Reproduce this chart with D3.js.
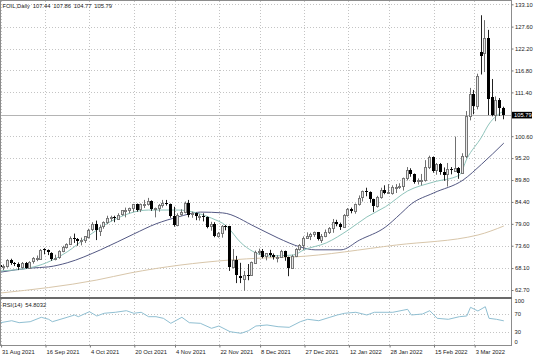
<!DOCTYPE html>
<html>
<head>
<meta charset="UTF-8">
<script src="https://cdn.jsdelivr.net/npm/d3@7"></script>
<style>
    body { margin: 0; background: #fff; }
    svg { display: block; font-family: "Liberation Sans", Arial, sans-serif; }
</style>
</head>
<body>
<div id="ChartContainer"></div>
<script>
// daily candles, 31 Aug 2021 .. 15 Mar 2022 (bar index = position in the arrays)
const opens = [
    68.9, 68.5, 68.6, 70.0, 69.3, 69.1, 68.4, 69.3, 68.1, 69.7,
    70.5, 70.5, 72.7, 72.5, 71.9, 70.3, 70.6, 72.2, 73.3, 74.0,
    75.4, 75.3, 74.8, 75.0, 75.9, 77.6, 78.9, 77.4, 78.3, 79.4,
    80.5, 80.6, 80.4, 81.3, 82.3, 82.4, 83.0, 83.9, 82.5, 83.8,
    83.8, 84.6, 82.7, 82.8, 83.6, 84.1, 83.9, 80.9, 78.8, 81.3,
    81.9, 84.2, 81.3, 81.6, 80.8, 80.9, 80.8, 78.4, 79.0, 76.1,
    76.8, 78.5, 78.4, 68.2, 70.0, 66.2, 65.6, 66.5, 66.3, 69.5,
    72.1, 72.4, 70.9, 71.7, 71.3, 70.7, 70.9, 72.4, 70.9, 68.2,
    71.1, 72.8, 73.8, 75.6, 76.0, 76.6, 77.0, 75.2, 76.1, 77.0,
    77.9, 79.5, 78.9, 78.2, 81.2, 82.6, 82.1, 83.8, 85.4, 87.0,
    86.9, 85.1, 83.3, 85.6, 87.4, 86.6, 86.8, 88.2, 88.2, 88.3,
    90.3, 92.3, 91.3, 89.4, 89.7, 89.9, 93.1, 95.5, 92.1, 93.7,
    91.8, 91.1, 92.4, 92.1, 92.8, 91.6, 95.7, 105.6, 111.0, 108.0,
    121.4, 121.1, 124.8, 110.3, 105.8, 109.5, 107.44
]
const highs = [
    69.3, 69.0, 70.3, 70.4, 69.6, 69.5, 69.6, 69.6, 69.8, 70.8,
    71.2, 72.8, 73.0, 72.7, 72.0, 71.4, 72.5, 73.6, 74.2, 75.9,
    76.6, 75.5, 75.6, 76.0, 77.8, 79.4, 79.8, 78.7, 79.6, 81.0,
    81.0, 81.0, 81.6, 82.4, 83.0, 83.0, 83.9, 84.0, 84.0, 84.9,
    85.4, 84.8, 83.0, 83.9, 84.9, 84.9, 84.0, 83.2, 81.6, 82.6,
    84.5, 84.9, 82.0, 81.8, 81.4, 81.6, 80.8, 79.5, 79.4, 77.0,
    78.7, 78.7, 78.5, 72.8, 71.1, 69.4, 67.4, 69.1, 69.7, 72.4,
    72.9, 72.8, 71.8, 72.6, 71.7, 71.3, 72.6, 72.4, 70.9, 71.4,
    73.0, 74.0, 75.9, 76.9, 76.8, 77.1, 77.0, 76.5, 77.6, 78.2,
    80.2, 80.0, 79.3, 81.4, 82.9, 83.0, 84.0, 86.0, 87.2, 87.9,
    87.0, 85.2, 85.9, 87.9, 88.5, 88.8, 88.5, 88.8, 89.0, 90.4,
    93.0, 92.7, 91.4, 90.2, 91.3, 94.7, 95.8, 95.6, 94.0, 94.0,
    92.9, 94.0, 93.0, 100.5, 93.0, 96.4, 106.8, 112.5, 112.0, 116.0,
    130.4, 129.2, 126.8, 114.7, 110.4, 110.0, 107.86
]
const lows = [
    67.9, 67.6, 68.2, 68.9, 68.6, 67.6, 68.0, 67.9, 67.9, 69.2,
    69.8, 70.2, 71.5, 71.3, 69.9, 70.0, 70.4, 72.0, 72.9, 73.8,
    74.3, 73.6, 73.7, 74.3, 75.4, 77.2, 75.0, 76.0, 77.8, 78.9,
    79.6, 79.4, 80.1, 81.0, 80.6, 81.6, 81.9, 82.0, 81.9, 82.9,
    83.5, 82.2, 80.6, 82.0, 83.0, 83.5, 80.5, 78.3, 78.4, 81.0,
    81.6, 80.6, 80.5, 79.9, 79.8, 79.6, 77.9, 77.3, 75.7, 75.6,
    75.6, 77.4, 67.4, 68.0, 64.4, 64.4, 62.5, 65.1, 66.2, 69.4,
    71.4, 70.5, 70.0, 70.8, 70.2, 69.5, 70.6, 69.9, 66.1, 68.0,
    70.8, 72.4, 72.6, 75.4, 75.0, 75.8, 74.9, 74.3, 75.7, 76.5,
    76.8, 78.4, 77.5, 78.0, 80.8, 81.6, 81.5, 83.5, 84.5, 85.8,
    84.2, 81.9, 83.0, 85.2, 86.3, 86.4, 86.2, 86.6, 87.6, 87.2,
    89.7, 90.6, 88.9, 88.7, 88.5, 89.4, 92.5, 91.6, 91.1, 91.1,
    89.6, 88.2, 91.2, 91.8, 90.1, 91.4, 95.2, 104.5, 106.0, 107.2,
    115.8, 116.4, 105.8, 105.5, 104.3, 105.6, 104.77
]
const closes = [
    68.5, 68.6, 70.0, 69.3, 69.1, 68.4, 69.3, 68.1, 69.7, 70.5,
    70.5, 72.6, 72.5, 71.9, 70.3, 70.6, 72.2, 73.3, 74.0, 75.4,
    75.3, 74.8, 75.0, 75.9, 77.6, 78.9, 77.4, 78.3, 79.4, 80.5,
    80.6, 80.4, 81.3, 82.3, 82.4, 83.0, 83.9, 82.5, 83.8, 83.8,
    84.6, 82.7, 82.8, 83.6, 84.1, 83.9, 80.9, 78.8, 81.3, 81.9,
    84.2, 81.3, 81.6, 80.8, 80.9, 80.8, 78.4, 79.0, 76.1, 76.8,
    78.5, 78.4, 68.2, 70.0, 66.2, 65.6, 66.5, 66.3, 69.5, 72.1,
    72.4, 70.9, 71.7, 71.3, 70.7, 70.9, 72.4, 70.9, 68.2, 71.1,
    72.8, 73.8, 75.6, 76.0, 76.6, 77.0, 75.2, 76.1, 77.0, 77.9,
    79.5, 78.9, 78.2, 81.2, 82.6, 82.1, 83.8, 85.4, 87.0, 86.9,
    85.1, 83.3, 85.6, 87.4, 86.6, 86.8, 88.2, 88.2, 88.3, 90.3,
    92.3, 91.3, 89.4, 89.7, 89.9, 93.1, 95.5, 92.1, 93.7, 91.8,
    91.1, 92.4, 92.1, 92.8, 91.6, 95.7, 105.6, 111.0, 108.0, 115.4,
    120.4, 124.8, 109.8, 105.8, 109.5, 107.5, 105.79
]

// moving averages (bar index, price)
const fastBars = [0, 9, 18, 24, 30, 40, 48, 53, 57, 61, 65, 68, 72, 79, 82, 88, 94, 99, 104, 110, 117, 124, 126, 130, 132, 134, 136]
const fastVals = [67.4, 68.4, 72.1, 76.2, 79.7, 82.4, 82.4, 81.7, 80.4, 78.5, 74.3, 72.3, 71.1, 71.3, 72.6, 74.3, 77.5, 80.7, 83.2, 87.1, 89.3, 91.0, 95.0, 100.4, 103.6, 105.6, 106.8]
const slowBars = [0, 8, 13, 18, 27, 36, 42, 48, 54, 60, 69, 75, 81, 85, 92, 97, 104, 108, 111, 117, 125, 130, 136]
const slowVals = [67.1, 68.1, 68.4, 69.4, 72.6, 76.5, 79.0, 80.7, 81.9, 81.7, 78.2, 75.5, 73.3, 72.6, 72.6, 75.0, 78.2, 81.4, 83.9, 86.6, 89.8, 93.7, 98.9]
const longBars = [0, 26, 35, 62, 71, 79, 107, 129, 136]
const longVals = [61.96, 65.16, 66.89, 70.09, 70.59, 70.83, 73.79, 76.25, 78.47]

// RSI(14)
const rsiBars = [0, 3, 5, 8, 11, 13, 14, 18, 20, 21, 24, 26, 28, 31, 34, 36, 38, 40, 42, 44, 46, 49, 51, 54, 57, 59, 62, 65, 67, 69, 72, 75, 78, 81, 83, 86, 89, 91, 93, 96, 99, 101, 106, 110, 111, 114, 116, 118, 121, 124, 126, 127, 129, 131, 132, 134, 136]
const rsiVals = [50.7, 55.1, 50.7, 52.9, 62.7, 58.2, 52.9, 62.7, 67.8, 64.0, 75.1, 65.6, 71.6, 73.8, 77.3, 71.6, 73.8, 64.0, 64.0, 60.4, 49.3, 62.7, 50.7, 49.3, 38.2, 43.3, 30.7, 27.1, 32.9, 43.3, 45.6, 41.8, 40.4, 52.9, 58.2, 55.1, 62.7, 67.8, 71.6, 73.8, 67.8, 73.8, 73.8, 80.4, 67.8, 70.0, 77.3, 60.4, 58.2, 64.0, 65.6, 84.9, 76.7, 86.2, 60.4, 58.2, 54.8]
const rsiTicks = [100, 70, 30, 0]
const rsiLevels = [70, 30]

const priceTicks = [133.10, 127.60, 122.20, 116.80, 111.40, 100.60, 95.20, 89.80, 84.40, 79.00, 73.60, 68.10, 62.70]
const dateTickBars = [0, 12, 24, 36, 47, 59, 70, 82, 94, 105, 117, 128]
const dateTicks = ["31 Aug 2021", "16 Sep 2021", "4 Oct 2021", "20 Oct 2021", "4 Nov 2021", "22 Nov 2021",
    "8 Dec 2021", "27 Dec 2021", "12 Jan 2022", "28 Jan 2022", "15 Feb 2022", "3 Mar 2022"]

const width = 536
const height = 361
const left = 1, right = 511
const mainTop = 1, mainBottom = 297
const rsiTop = 299, rsiBottom = 345
const fontSize = 5.8

const x = d3.scaleLinear().domain([0, closes.length - 1]).range([0.6, 503.8])
const y = d3.scaleLinear().domain([62.70, 133.10]).range([290, 4.3])
const yR = d3.scaleLinear().domain([0, 100]).range([345.5, 300.5])
const px = v => Math.round(v) + 0.5

const svg = d3.select("#ChartContainer")
    .append("svg")
    .attr("width", width)
    .attr("height", height)

const defs = svg.append("defs")
defs.append("clipPath").attr("id", "clipMain")
    .append("rect").attr("x", left).attr("y", mainTop).attr("width", right - left).attr("height", mainBottom - mainTop)
defs.append("clipPath").attr("id", "clipRsi")
    .append("rect").attr("x", left).attr("y", rsiTop).attr("width", right - left).attr("height", rsiBottom - rsiTop)

// grid (fine dotted, pale)
const grid = svg.append("g")
    .attr("stroke", "#c4c4c4")
    .attr("stroke-dasharray", "1,2")
grid.selectAll(".hg")
    .data(priceTicks)
    .enter()
    .append("line")
    .attr("x1", left).attr("x2", right)
    .attr("y1", d => px(y(d))).attr("y2", d => px(y(d)))
grid.selectAll(".vg")
    .data(dateTickBars)
    .enter()
    .append("line")
    .attr("x1", d => px(x(d))).attr("x2", d => px(x(d)))
    .attr("y1", mainTop).attr("y2", mainBottom)
grid.selectAll(".vr")
    .data(dateTickBars)
    .enter()
    .append("line")
    .attr("x1", d => px(x(d))).attr("x2", d => px(x(d)))
    .attr("y1", rsiTop).attr("y2", rsiBottom)
grid.selectAll(".rl")
    .data(rsiLevels)
    .enter()
    .append("line")
    .attr("x1", left).attr("x2", right)
    .attr("y1", d => px(yR(d))).attr("y2", d => px(yR(d)))

// bid line
svg.append("line")
    .attr("x1", left).attr("x2", right)
    .attr("y1", px(y(closes[closes.length - 1]))).attr("y2", px(y(closes[closes.length - 1])))
    .attr("stroke", "#b4b4b4")

const main = svg.append("g").attr("clip-path", "url(#clipMain)")

// moving averages
const maLine = d3.line()
    .x(d => x(d[0]))
    .y(d => y(d[1]))
    .curve(d3.curveMonotoneX)

const mas = [
    [longBars, longVals, "#d8c6aa"],
    [slowBars, slowVals, "#535883"],
    [fastBars, fastVals, "#8fc4bb"]
]
mas.forEach(([bars, vals, color]) => {
    main.append("path")
        .attr("d", maLine(d3.zip(bars, vals)))
        .attr("fill", "none")
        .attr("stroke", color)
        .attr("stroke-width", 1)
})

// candles
const bars = d3.range(closes.length)
main.selectAll(".wick")
    .data(bars)
    .enter()
    .append("line")
    .attr("x1", i => Math.round(x(i)) - 0.5)
    .attr("x2", i => Math.round(x(i)) - 0.5)
    .attr("y1", i => y(highs[i]))
    .attr("y2", i => y(lows[i]))
    .attr("stroke", i => closes[i] >= opens[i] ? "#707070" : "#222")

main.selectAll(".body")
    .data(bars)
    .enter()
    .append("rect")
    .each(function (i) {
        const top = y(Math.max(opens[i], closes[i]))
        const bottom = y(Math.min(opens[i], closes[i]))
        const sel = d3.select(this)
        if (closes[i] >= opens[i]) {
            sel.attr("x", Math.round(x(i)) - 1.5)
                .attr("width", 2)
                .attr("y", Math.round(top) + 0.5)
                .attr("height", Math.max(1, Math.round(bottom - top)))
                .attr("fill", "#e6e6e6")
                .attr("stroke", "#777")
        } else {
            sel.attr("x", Math.round(x(i)) - 2)
                .attr("width", 3)
                .attr("y", Math.round(top))
                .attr("height", Math.max(1, Math.round(bottom - top)))
                .attr("fill", "#000")
        }
    })

// RSI pane
const rsiLine = d3.line()
    .x(d => x(d[0]))
    .y(d => yR(d[1]))
svg.append("g").attr("clip-path", "url(#clipRsi)")
    .append("path")
    .attr("d", rsiLine(d3.zip(rsiBars, rsiVals)))
    .attr("fill", "none")
    .attr("stroke", "#90bfd2")
    .attr("stroke-width", 1)

// frame
svg.append("rect")
    .attr("x", 0.5).attr("y", 0.5)
    .attr("width", right).attr("height", rsiBottom)
    .attr("fill", "none")
    .attr("stroke", "#8c8c8c")
svg.append("rect")
    .attr("x", 0).attr("y", mainBottom)
    .attr("width", right + 1).attr("height", 2)
    .attr("fill", "#6a6a6a")

// price axis
const priceAxis = svg.append("g")
    .attr("transform", `translate(${right + 0.5},0)`)
    .call(d3.axisRight(y).tickValues(priceTicks).tickFormat(d3.format(".2f")).tickSize(2).tickPadding(1.5))
priceAxis.select(".domain").remove()
priceAxis.selectAll("line").attr("stroke", "#777")
priceAxis.selectAll("text")
    .attr("font-family", "Liberation Sans, Arial, sans-serif")
    .attr("font-size", fontSize)
    .attr("fill", "#222")

// current price box
const last = closes[closes.length - 1]
svg.append("rect")
    .attr("x", right + 1).attr("y", y(last) - 3.3)
    .attr("width", 20).attr("height", 6.6)
    .attr("fill", "#000")
svg.append("text")
    .attr("x", right + 3).attr("y", y(last))
    .attr("dy", "0.34em")
    .attr("font-size", fontSize)
    .attr("fill", "#fff")
    .text(d3.format(".2f")(last))

// RSI axis labels (kept inside the pane like the original)
svg.selectAll(".rsiTick")
    .data(rsiTicks)
    .enter()
    .append("text")
    .attr("x", right + 3.5)
    .attr("y", d => Math.min(342, Math.max(301, yR(d))))
    .attr("dy", "0.34em")
    .attr("font-size", fontSize)
    .attr("fill", "#222")
    .text(d => d)

// date axis
const dateAxis = svg.append("g")
    .attr("transform", `translate(0,${rsiBottom + 0.5})`)
    .call(d3.axisBottom(x).tickValues(dateTickBars).tickFormat((d, i) => dateTicks[i]).tickSize(2).tickPadding(2))
dateAxis.select(".domain").remove()
dateAxis.selectAll("line").attr("stroke", "#777").attr("transform", "translate(0.5,0)")
dateAxis.selectAll("text")
    .attr("text-anchor", "start")
    .attr("dx", 1)
    .attr("font-family", "Liberation Sans, Arial, sans-serif")
    .attr("font-size", fontSize)
    .attr("fill", "#222")

// titles
svg.append("text")
    .attr("x", 2.5).attr("y", 8)
    .attr("font-size", fontSize)
    .attr("word-spacing", 1.2)
    .attr("fill", "#222")
    .text(`FOIL,Daily ${opens[opens.length - 1]} ${highs[highs.length - 1]} ${lows[lows.length - 1]} ${closes[closes.length - 1]}`)
svg.append("text")
    .attr("x", 2.5).attr("y", 306.5)
    .attr("font-size", fontSize)
    .attr("word-spacing", 1.2)
    .attr("fill", "#222")
    .text(`RSI(14) ${d3.format(".4f")(54.8032)}`)
</script>
</body>
</html>
